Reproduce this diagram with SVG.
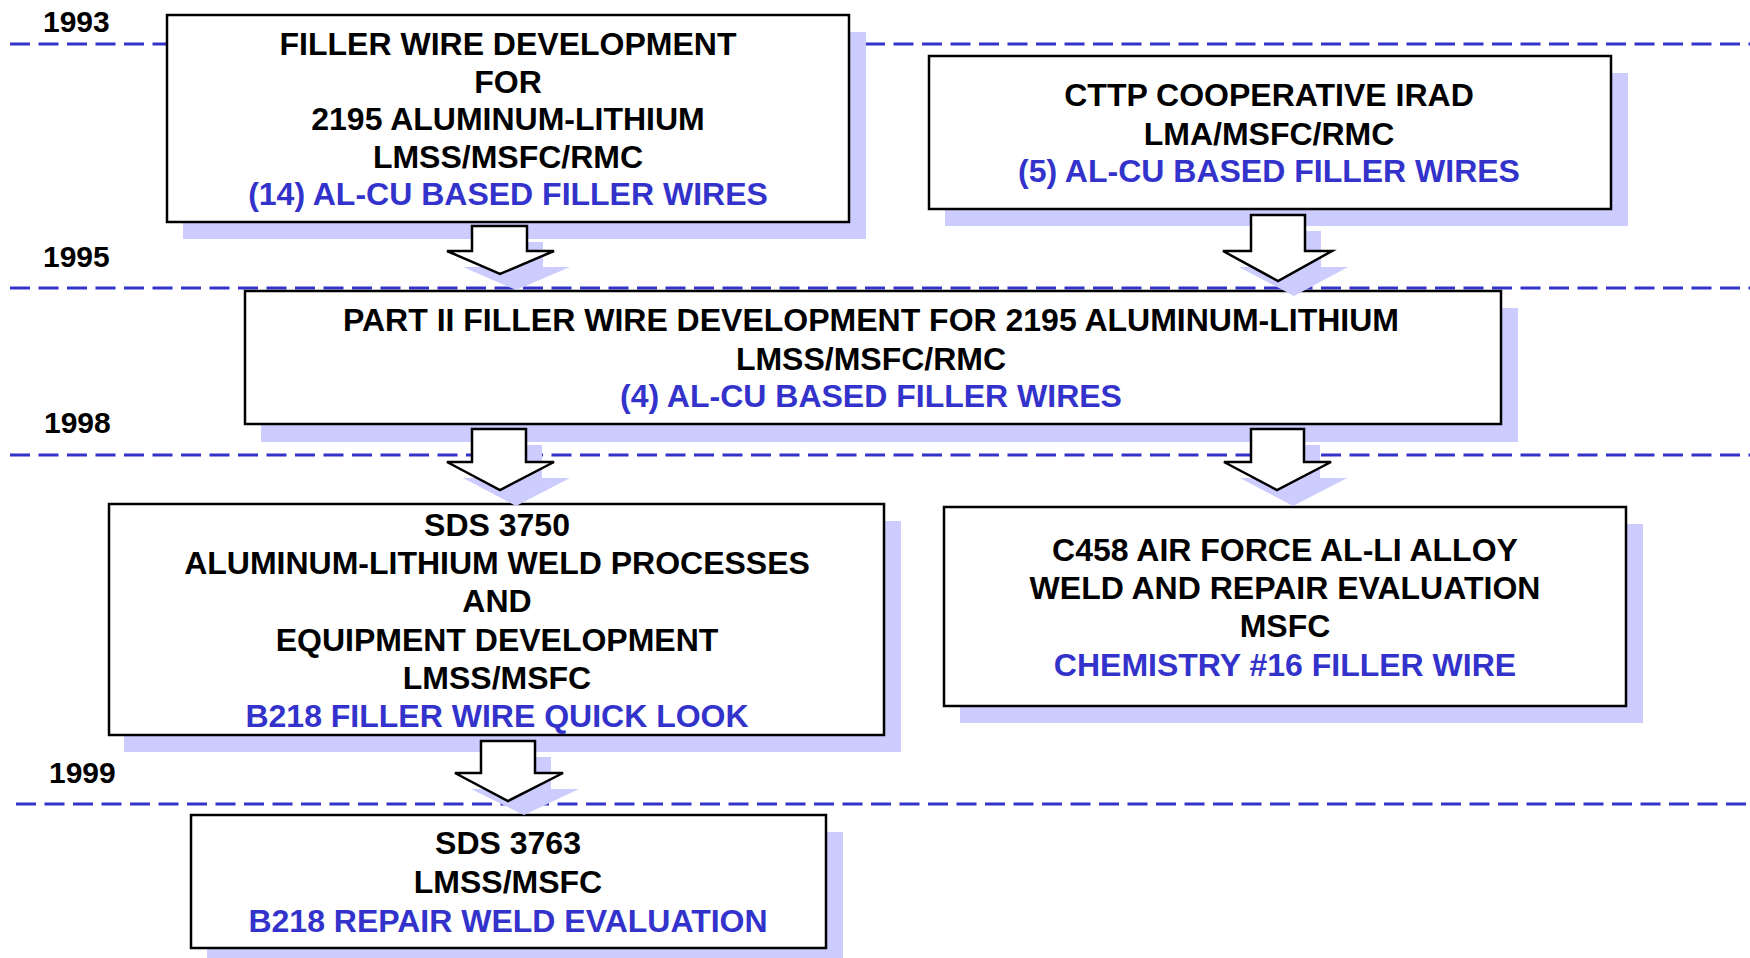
<svg xmlns="http://www.w3.org/2000/svg" width="1750" height="958" viewBox="0 0 1750 958">
<defs>
<style>
text{font-family:"Liberation Sans",Arial,sans-serif;font-weight:bold;font-size:32px;fill:#000;text-anchor:middle}
.b{fill:#3333cc}
.yr{font-size:30px;text-anchor:start}
.dash{stroke:#3333cc;stroke-width:3;stroke-dasharray:20 8.5;fill:none}
.box{fill:#fff;stroke:#000;stroke-width:2.5}
.sh{fill:#ccccff;stroke:none}
.arr{fill:#fff;stroke:#000;stroke-width:2.5;stroke-linejoin:miter}
</style>
</defs>
<rect width="1750" height="958" fill="#fff"/>
<g id="timeline">
<line class="dash" x1="10" y1="44" x2="1750" y2="44"/>
<line class="dash" x1="10" y1="288" x2="1750" y2="288"/>
<line class="dash" x1="10" y1="455" x2="1750" y2="455"/>
<line class="dash" x1="16" y1="804" x2="1750" y2="804"/>
<text class="yr" x="43" y="32">1993</text>
<text class="yr" x="43" y="267">1995</text>
<text class="yr" x="44" y="433">1998</text>
<text class="yr" x="49" y="783">1999</text>
</g>
<g id="node1">
<rect class="sh" x="183" y="32" width="683" height="207"/>
<rect class="box" x="167" y="15" width="682" height="207"/>
<text x="508" y="55">FILLER WIRE DEVELOPMENT</text>
<text x="508" y="92.5">FOR</text>
<text x="508" y="130">2195 ALUMINUM-LITHIUM</text>
<text x="508" y="167.5">LMSS/MSFC/RMC</text>
<text class="b" x="508" y="205">(14) AL-CU BASED FILLER WIRES</text>
</g>
<g id="node2">
<rect class="sh" x="945" y="73" width="683" height="153"/>
<rect class="box" x="929" y="56" width="682" height="153"/>
<text x="1269" y="106">CTTP COOPERATIVE IRAD</text>
<text x="1269" y="144.5">LMA/MSFC/RMC</text>
<text class="b" x="1269" y="182">(5) AL-CU BASED FILLER WIRES</text>
</g>
<g id="node3">
<rect class="sh" x="261" y="308" width="1257" height="134"/>
<rect class="box" x="245" y="291" width="1256" height="133"/>
<text x="871" y="331">PART II FILLER WIRE DEVELOPMENT FOR 2195 ALUMINUM-LITHIUM</text>
<text x="871" y="369.5">LMSS/MSFC/RMC</text>
<text class="b" x="871" y="407">(4) AL-CU BASED FILLER WIRES</text>
</g>
<g id="node4">
<rect class="sh" x="124" y="521" width="777" height="231"/>
<rect class="box" x="109" y="504" width="775" height="231"/>
<text x="497" y="536">SDS 3750</text>
<text x="497" y="574">ALUMINUM-LITHIUM WELD PROCESSES</text>
<text x="497" y="612">AND</text>
<text x="497" y="650.5">EQUIPMENT DEVELOPMENT</text>
<text x="497" y="689">LMSS/MSFC</text>
<text class="b" x="497" y="727">B218 FILLER WIRE QUICK LOOK</text>
</g>
<g id="node5">
<rect class="sh" x="960" y="524" width="683" height="199"/>
<rect class="box" x="944" y="507" width="682" height="199"/>
<text x="1285" y="561">C458 AIR FORCE AL-LI ALLOY</text>
<text x="1285" y="599">WELD AND REPAIR EVALUATION</text>
<text x="1285" y="637">MSFC</text>
<text class="b" x="1285" y="676">CHEMISTRY #16 FILLER WIRE</text>
</g>
<g id="node6">
<rect class="sh" x="207" y="832" width="636" height="126"/>
<rect class="box" x="191" y="815" width="635" height="133"/>
<text x="508" y="854">SDS 3763</text>
<text x="508" y="893">LMSS/MSFC</text>
<text class="b" x="508" y="932">B218 REPAIR WELD EVALUATION</text>
</g>
<g id="connectors">
<path class="sh" d="M488,242 H543 V267 H570 L516,290 L463,267 H488 Z"/>
<path class="sh" d="M1267,231 H1321 V267 H1348 L1294,296 L1239,267 H1267 Z"/>
<path class="sh" d="M488,445 H542 V478 H570 L516,506 L463,478 H488 Z"/>
<path class="sh" d="M1267,445 H1320 V478 H1347 L1293,506 L1240,478 H1267 Z"/>
<path class="sh" d="M497,757 H551 V789 H579 L524,815 L471,789 H497 Z"/>
<path class="arr" d="M472,226 H527 V251 H554 L500,274 L447,251 H472 Z"/>
<path class="arr" d="M1251,215 H1305 V251 H1332 L1278,281 L1223,251 H1251 Z"/>
<path class="arr" d="M472,429 H526 V462 H554 L500,490 L447,462 H472 Z"/>
<path class="arr" d="M1251,429 H1304 V462 H1331 L1277,490 L1224,462 H1251 Z"/>
<path class="arr" d="M481,741 H535 V773 H563 L508,801 L455,773 H481 Z"/>
</g>
</svg>
